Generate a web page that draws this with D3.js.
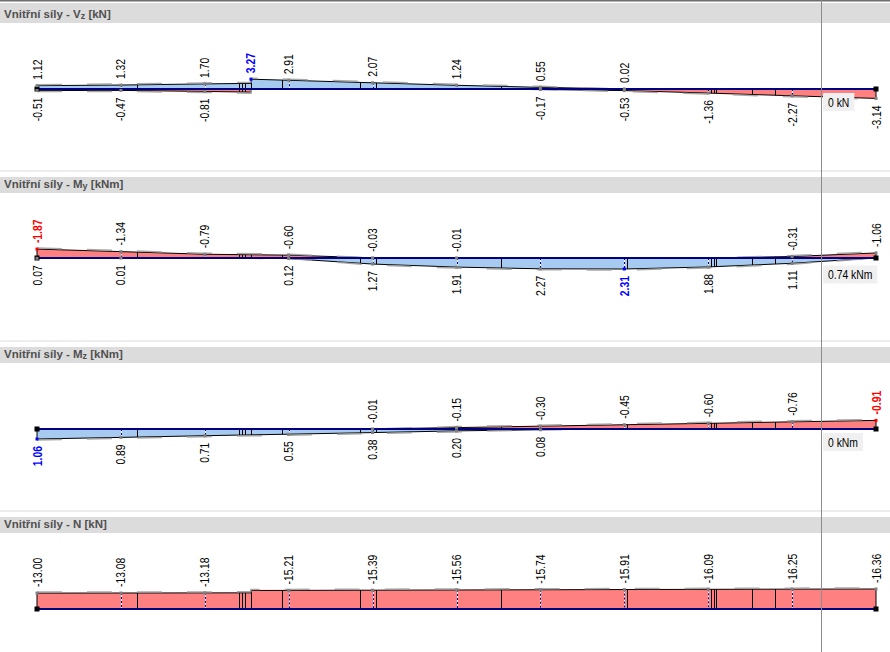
<!DOCTYPE html>
<html>
<head>
<meta charset="utf-8">
<script src="https://cdn.jsdelivr.net/npm/d3@7"></script>
<style>
html, body { margin: 0; padding: 0; background: #fff; overflow: hidden; }
svg { display: block; }
</style>
</head>
<body>
<div id="chart"></div>
<script>
const W = 890, H = 652;

// positions along the member, 0..1
const stations = [0, 0.1, 0.2, 0.3, 0.4, 0.5, 0.6, 0.7, 0.8, 0.9, 1];
const jumpPos = 0.255;
const posJump = [0, 0.1, 0.2, jumpPos, jumpPos, 0.3, 0.4, 0.5, 0.6, 0.7, 0.8, 0.9, 1];
const elemBounds = [0.1192, 0.2408, 0.2443, 0.2479, 0.2551, 0.292, 0.385, 0.404, 0.553, 0.7032, 0.8033, 0.8069, 0.8093, 0.8522, 0.8796];

// Vz [kN]
const vzMax = [1.12, 1.32, 1.70, 1.88, 3.27, 2.91, 2.07, 1.24, 0.55, 0.02, 0, 0, 0];
const vzMaxHide = [3, 10, 11, 12];
const vzMin = [-0.51, -0.47, -0.81, -1.05, 0, 0, 0, 0, -0.17, -0.53, -1.36, -2.27, -3.14];
const vzMinHide = [3, 4, 5, 6, 7];

// My [kNm]
const myMin = [-1.87, -1.34, -0.79, -0.60, -0.03, -0.01, 0, 0, 0, -0.31, -1.06];
const myMinHide = [6, 7, 8];
const myMax = [0.07, 0.01, 0, 0.12, 1.27, 1.91, 2.27, 2.31, 1.88, 1.11, 0];
const myMaxHide = [2, 10];

// Mz [kNm]
const mzMin = [0, 0, 0, 0, -0.01, -0.15, -0.30, -0.45, -0.60, -0.76, -0.91];
const mzMinHide = [0, 1, 2, 3];
const mzMax = [1.06, 0.89, 0.71, 0.55, 0.38, 0.20, 0.08, 0, 0, 0, 0];
const mzMaxHide = [7, 8, 9, 10];

// N [kN]
const nVal = [-13.00, -13.08, -13.18, -13.22, -15.16, -15.21, -15.39, -15.56, -15.74, -15.91, -16.09, -16.25, -16.36];
const nHide = [3, 4];

const titles = ["Vnitřní síly - V", "Vnitřní síly - M", "Vnitřní síly - M", "Vnitřní síly - N"];
const titleSubs = ["z", "y", "z", ""];
const units = ["kN", "kNm", "kNm", "kN"];

const cursorPos = 0.934;
const cursorVals = [0, 0.74, 0, null];

// layout
const headerTop = [3, 177, 347, 517];
const headerH = [20, 16, 16, 16];
const baseY = [89, 258, 429, 609];
const halfH = [9.8, 11, 10, 20];
const upPositive = [true, false, false, false];

const blueFill = "#a6caf0";
const redFill = "#ff8080";
const navy = "#000080";
const labelFont = "'Liberation Sans', Arial, sans-serif";
const narrow = 0.83;

const fmt = d3.formatLocale({decimal: ".", thousands: ",", grouping: [3], currency: ["", ""], minus: "-"}).format(".2f");

const panels = [
    {curves: [
        {pos: posJump, val: vzMax, hide: vzMaxHide, side: "top", ext: {4: "#0000ff"}},
        {pos: posJump, val: vzMin, hide: vzMinHide, side: "bottom", ext: {}}]},
    {curves: [
        {pos: stations, val: myMin, hide: myMinHide, side: "top", ext: {0: "#ff0000"}},
        {pos: stations, val: myMax, hide: myMaxHide, side: "bottom", ext: {7: "#0000ff"}}]},
    {curves: [
        {pos: stations, val: mzMin, hide: mzMinHide, side: "top", ext: {10: "#ff0000"}},
        {pos: stations, val: mzMax, hide: mzMaxHide, side: "bottom", ext: {0: "#0000ff"}}]},
    {curves: [
        {pos: posJump, val: nVal, hide: nHide, side: "top", ext: {}}]}
];

const svg = d3.select("#chart").append("svg").attr("width", W).attr("height", H);
const x = d3.scaleLinear().domain([0, 1]).range([37, 876]);

const textAttr = (sel, fill, size, weight) => {
    sel.attr("fill", fill).attr("font-family", labelFont).attr("font-size", size).attr("font-weight", weight || "normal");
};

const valueAt = (pts, p) => {
    const same = pts.filter(d => Math.abs(d.p - p) < 1e-6);
    if (same.length) return same.reduce((a, b) => Math.abs(b.v) > Math.abs(a.v) ? b : a).v;
    for (let i = 0; i < pts.length - 1; i++) {
        const a = pts[i], b = pts[i + 1];
        if (a.p < p && p < b.p) return a.v + (b.v - a.v) * (p - a.p) / (b.p - a.p);
    }
    return 0;
};

// top frame line
svg.append("rect").attr("x", 0).attr("y", 0).attr("width", W).attr("height", 1.5).attr("fill", "#6e6e6e");

panels.forEach((panel, k) => {
    const base = baseY[k];
    const m = d3.max(panel.curves, c => d3.max(c.val, v => Math.abs(v)));
    const y = d3.scaleLinear().domain([-m, m])
        .range(upPositive[k] ? [base + halfH[k], base - halfH[k]] : [base - halfH[k], base + halfH[k]]);
    const g = svg.append("g");

    if (k > 0) g.append("rect").attr("x", 0).attr("y", headerTop[k] - 7).attr("width", W).attr("height", 2).attr("fill", "#ededed");
    g.append("rect").attr("x", 0).attr("y", headerTop[k]).attr("width", W).attr("height", headerH[k]).attr("fill", "#dcdcdc");
    const t = g.append("text").attr("x", 4).attr("y", headerTop[k] + headerH[k] - 5.5)
        .attr("fill", "#505050").attr("font-family", labelFont).attr("font-size", 11.5).attr("font-weight", "bold");
    t.append("tspan").text(titles[k]);
    if (titleSubs[k]) t.append("tspan").attr("font-size", 9).attr("dy", 1.5).text(titleSubs[k]);
    t.append("tspan").attr("dy", titleSubs[k] ? -1.5 : 0).text(" [" + units[k] + "]");

    // clip regions above / below the member axis
    const clipUp = "clipUp" + k, clipDown = "clipDown" + k;
    const defs = g.append("defs");
    defs.append("clipPath").attr("id", clipUp).append("rect").attr("x", 0).attr("y", base - 60).attr("width", W).attr("height", 60);
    defs.append("clipPath").attr("id", clipDown).append("rect").attr("x", 0).attr("y", base).attr("width", W).attr("height", 60);
    const upColor = upPositive[k] ? blueFill : redFill;
    const downColor = upPositive[k] ? redFill : blueFill;

    const curves = panel.curves.map(c => ({...c, pts: c.val.map((v, i) => ({p: c.pos[i], v}))}));

    const area = d3.area().x(d => x(d.p)).y0(base).y1(d => y(d.v));
    curves.forEach(c => {
        g.append("path").datum(c.pts).attr("d", area).attr("fill", upColor).attr("clip-path", `url(#${clipUp})`);
        g.append("path").datum(c.pts).attr("d", area).attr("fill", downColor).attr("clip-path", `url(#${clipDown})`);
    });
    curves.forEach(c => {
        g.append("path").datum(c.pts).attr("d", area).attr("fill", "none").attr("stroke", "#000").attr("stroke-width", 1);
    });

    // element boundaries
    elemBounds.forEach(p => {
        const vs = curves.map(c => y(valueAt(c.pts, p)));
        const y1 = Math.min(base, ...vs), y2 = Math.max(base, ...vs);
        g.append("line").attr("x1", Math.round(x(p)) + 0.5).attr("x2", Math.round(x(p)) + 0.5)
            .attr("y1", y1).attr("y2", y2).attr("stroke", "#000").attr("stroke-width", 1);
    });

    // dashed section lines at stations
    stations.slice(1, -1).forEach(p => {
        const vs = curves.map(c => y(valueAt(c.pts, p)));
        const y1 = Math.min(base, ...vs), y2 = Math.max(base, ...vs);
        if (y2 - y1 < 2) return;
        const sx = Math.round(x(p)) + 0.5;
        g.append("line").attr("x1", sx).attr("x2", sx).attr("y1", y1).attr("y2", y2).attr("stroke", "#fff").attr("stroke-width", 1);
        g.append("line").attr("x1", sx).attr("x2", sx).attr("y1", y1).attr("y2", y2).attr("stroke", navy).attr("stroke-width", 1).attr("stroke-dasharray", "2,2");
    });

    // grey result line just outside the outline
    curves.forEach(c => {
        const off = c.side === "top" ? -1 : 1;
        const line = d3.line().x(d => x(d.p)).y(d => y(d.v) + (Math.abs(y(d.v) - base) > 1 ? off : 0));
        g.append("path").datum(c.pts).attr("d", line).attr("fill", "none").attr("stroke", "#9a9a9a")
            .attr("stroke-width", 1.5).attr("stroke-dasharray", "25,25").attr("opacity", 0.85);
    });

    // member axis and nodes
    g.append("line").attr("x1", x(0)).attr("x2", x(1)).attr("y1", base).attr("y2", base).attr("stroke", navy).attr("stroke-width", 2.2);
    [0, 1].forEach(p => {
        g.append("rect").attr("x", x(p) - 2.5).attr("y", base - 2.5).attr("width", 5).attr("height", 5).attr("fill", "#000");
    });

    // value markers and labels
    curves.forEach(c => {
        c.pts.forEach((d, i) => {
            if (c.hide.includes(i)) return;
            const sx = x(d.p), py = y(d.v);
            const col = c.ext[i] || "#000";
            g.append("rect").attr("x", sx - 1.5).attr("y", py - 1.5).attr("width", 3).attr("height", 3)
                .attr("fill", c.ext[i] || "#808080");
            const lab = g.append("text").text(fmt(d.v)).call(textAttr, col, 12.5, c.ext[i] ? "bold" : "normal");
            if (c.side === "top") {
                lab.attr("text-anchor", "start").attr("transform", `translate(${sx + 4.5},${py - 6}) rotate(-90) scale(${narrow},1)`);
            } else {
                lab.attr("text-anchor", "end").attr("transform", `translate(${sx + 4.5},${py + 7}) rotate(-90) scale(${narrow},1)`);
            }
        });
    });

    panel.y = y;
});

// cursor line and value boxes
const cx = Math.round(x(cursorPos)) + 0.5;
svg.append("line").attr("x1", cx).attr("x2", cx).attr("y1", 0).attr("y2", H).attr("stroke", "#8c8c8c").attr("stroke-width", 1);

cursorVals.forEach((v, k) => {
    if (v === null) return;
    const top = panels[k].y(v) + 4;
    const bg = svg.append("rect").attr("x", cx + 1.5).attr("y", top).attr("height", 18).attr("fill", "#f0f0f0");
    const t = svg.append("text").text(`${v === 0 ? "0" : fmt(v)} ${units[k]}`).call(textAttr, "#000", 12.5)
        .attr("transform", `translate(${cx + 6.5},${top + 13.5}) scale(${narrow},1)`);
    bg.attr("width", t.node().getComputedTextLength() * narrow + 10);
});
</script>
</body>
</html>
